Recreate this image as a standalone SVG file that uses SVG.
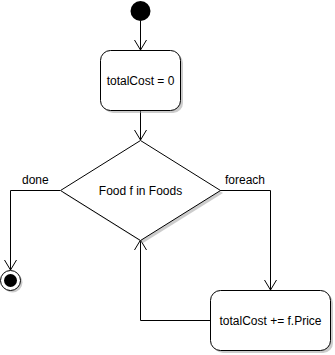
<svg xmlns="http://www.w3.org/2000/svg" width="335" height="355" viewBox="0 0 335 355">
<defs>
<style>
.ln{fill:none;stroke:#000;stroke-width:1}
.nd{fill:#fff;stroke:#000;stroke-width:1}
.sh{fill:#999;opacity:0.5}
.tx{font-family:"Liberation Sans",Arial,sans-serif;font-size:12px;fill:#000;text-anchor:middle}
.lb{font-family:"Liberation Sans",Arial,sans-serif;font-size:12px;fill:#000}
</style>
<marker id="arr" markerWidth="14" markerHeight="14" refX="12" refY="7" orient="auto" markerUnits="userSpaceOnUse">
<path d="M2,1 L12,7 L2,13" fill="none" stroke="#000" stroke-width="1"/>
</marker>
</defs>
<rect width="335" height="355" fill="#fff"/>
<g id="connectors">
<path class="ln" d="M140.5,21 V50" marker-end="url(#arr)"/>
<path class="ln" d="M140.5,110 V140" marker-end="url(#arr)"/>
<path class="ln" d="M60,190.5 H10.5 V270" marker-end="url(#arr)"/>
<path class="ln" d="M220,190.5 H270.5 V290" marker-end="url(#arr)"/>
<path class="ln" d="M210,320.5 H140.5 V240" marker-end="url(#arr)"/>
<text class="lb" x="22" y="183.5">done</text>
<text class="lb" x="225" y="183.5">foreach</text>
</g>
<g id="start">
<circle cx="140.5" cy="11" r="10" fill="#000"/>
</g>
<g id="init">
<rect class="sh" x="103" y="53" width="80" height="60" rx="10"/>
<rect class="nd" x="100.5" y="50.5" width="80" height="60" rx="10"/>
<text class="tx" x="140.5" y="85">totalCost = 0</text>
</g>
<g id="decision">
<polygon class="sh" points="143,143 223,193 143,243 63,193"/>
<polygon class="nd" points="140.5,140.5 220.5,190.5 140.5,240.5 60.5,190.5"/>
<text class="tx" x="140.5" y="195">Food f in Foods</text>
</g>
<g id="end">
<circle class="sh" cx="12.5" cy="282.5" r="10"/>
<circle class="nd" cx="10.5" cy="280.5" r="10"/>
<circle cx="10.5" cy="280.5" r="6.5" fill="#000"/>
</g>
<g id="accumulate">
<rect class="sh" x="213" y="293" width="120" height="60" rx="10"/>
<rect class="nd" x="210.5" y="290.5" width="120" height="60" rx="10"/>
<text class="tx" x="270.5" y="324.5">totalCost += f.Price</text>
</g>
</svg>
